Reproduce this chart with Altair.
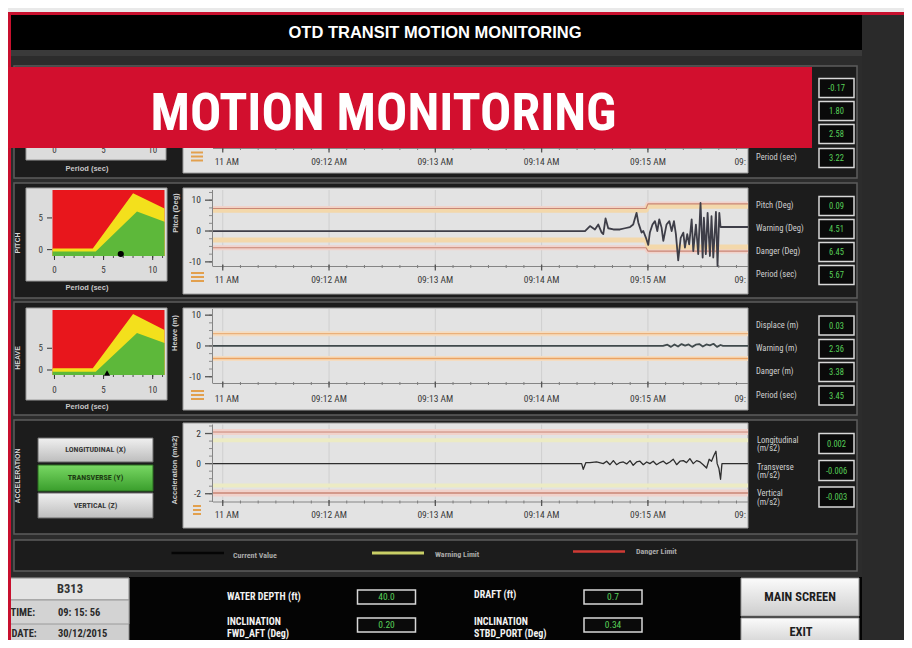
import altair as alt
import pandas as pd

# ------------------------------------------------------------------ content
SCREEN_TITLE = "OTD TRANSIT MOTION MONITORING"
BANNER_TEXT = "MOTION MONITORING"
PANEL_NAMES = ["ROLL", "PITCH", "HEAVE", "ACCELERATION"]
AXIS_TITLES = ["Roll (Deg)", "Pitch (Deg)", "Heave (m)", "Acceleration (m/s2)"]
ENV_TITLE = "Period (sec)"
ENV_X_TICKS = [0, 5, 10]
ENV_Y_TICKS = [0, 5]

# time axis, seconds after 09:11:00
TIME_WINDOW = [-5.5, 296.5]
TIME_TICKS = [0, 60, 120, 180, 240, 300]
TIME_LABELS = ["11 AM", "09:12 AM", "09:13 AM", "09:14 AM", "09:15 AM", "09:"]

PITCH_Y_TICKS = [10, 0, -10]
HEAVE_Y_TICKS = [10, 0, -10]
ACC_Y_TICKS = [2, 0, -2]

# pitch trace
PITCH_T = [-5.5, 204.5, 207.3, 210.1, 212.0, 213.9, 214.8, 216.1, 217.6, 220.5,
           224.2, 227.0, 229.9, 231.7, 233.6, 234.6, 235.5, 236.4, 237.4, 238.9,
           240.2, 241.1, 242.6, 244.0, 245.3, 246.4, 247.7, 248.7, 250.5, 252.1,
           253.4, 254.7, 255.8, 257.1, 258.5, 260.0, 260.9, 262.2, 263.3, 264.7,
           265.6, 267.1, 268.4, 269.7, 270.9, 271.6, 272.7, 273.7, 275.0, 275.9,
           276.9, 278.4, 279.3, 280.3, 281.0, 296.5]
PITCH_V = [0, 0, 1.6, 0.5, 2.1, -0.5, -1.0, 4.1, 0.9, 0.5,
           0.5, 0.9, 1.3, 2.1, 5.9, 2.7, 1.1, -0.5, 0.0, -2.2,
           -4.5, -0.5, 2.1, 3.2, 0.0, 3.8, 1.1, -3.2, 2.1, 3.2,
           0.0, 3.2, -1.0, -9.5, -2.2, -0.5, -5.4, -1.0, -4.3, 3.8,
           -6.5, 2.1, -7.5, 9.1, -8.6, 4.3, -7.5, 5.9, -8.1, 4.8,
           -8.6, 6.2, -11.3, 5.9, 1.3, 1.3]
PITCH_LIMIT_T = [-5.5, 239.0, 240.0, 296.5]
PITCH_DANGER_HI = [7.3, 7.3, 8.8, 8.8]
PITCH_DANGER_LO = [-5.4, -5.4, -6.5, -6.5]
PITCH_WARN_HI = [6.7, 6.7, 8.0, 8.0]
PITCH_WARN_LO = [-2.9, -2.9, -5.2, -5.2]

# heave trace
HEAVE_T = [-5.5, 248.5, 251.0, 253.0, 255.0, 257.0, 259.0, 261.0, 263.0, 265.0,
           267.0, 269.0, 271.0, 273.0, 275.0, 277.0, 279.0, 281.0, 282.4, 296.5]
HEAVE_V = [0, 0, 0.4, -0.3, 0.5, -0.2, 0.6, 0.1, 0.5, -0.3,
           0.4, 0.6, -0.2, 0.5, 0.2, 0.7, -0.3, 0.3, 0, 0]
HEAVE_LIMITS = [4.0, -4.1]

# transverse acceleration trace
ACC_T = [-5.5, 202.6, 203.5, 205.0, 207.3, 211.0, 214.8, 216.7, 218.6, 220.5,
         222.3, 224.2, 226.1, 228.0, 229.9, 231.7, 233.6, 235.5, 237.4, 239.3,
         241.1, 243.0, 244.9, 246.8, 248.7, 250.5, 252.4, 254.3, 256.2, 258.1,
         260.0, 261.8, 263.7, 265.6, 267.5, 269.4, 271.2, 273.1, 274.6, 275.9,
         277.3, 278.4, 279.1, 280.1, 281.0, 281.8, 296.5]
ACC_V = [0, 0, -0.38, 0.07, 0.07, 0.11, 0, 0.16, -0.07, 0.2,
         -0.07, 0.07, 0.11, -0.02, 0.2, -0.11, 0.11, 0.16, -0.07, 0.11,
         0, 0.16, -0.07, 0.07, 0.16, -0.02, 0.11, 0.29, -0.07, 0.16,
         0.2, 0.07, 0.33, 0, 0.2, 0.11, -0.07, -0.29, 0.29, 0.16,
         0.56, 0.82, 0, -0.33, -1.04, 0, 0]
ACC_DANGER = [2.1, -1.95]
ACC_WARN = [1.55, -1.45]

# motion envelopes (period vs amplitude)
ENV_X_WARN = [-0.2, 3.9, 8.0, 11.2]
ENV_X_SAFE = [-0.2, 4.2, 8.4, 11.2]
PITCH_ENV_WARN = [0.2, 0.2, 8.9, 6.5]
PITCH_ENV_SAFE = [-0.3, -0.3, 6.0, 4.4]
HEAVE_ENV_WARN = [0.4, 0.4, 12.9, 9.2]
HEAVE_ENV_SAFE = [-0.4, -0.4, 8.5, 6.2]
PITCH_STATE = [6.75, -0.68]
HEAVE_STATE = [5.35, -0.7]

# readouts
ROLL_READ_LABELS = ["Roll (Deg)", "Warning (Deg)", "Danger (Deg)", "Period (sec)"]
ROLL_READ_VALUES = [-0.17, 1.80, 2.58, 3.22]
PITCH_READ_LABELS = ["Pitch (Deg)", "Warning (Deg)", "Danger (Deg)", "Period (sec)"]
PITCH_READ_VALUES = [0.09, 4.51, 6.45, 5.67]
HEAVE_READ_LABELS = ["Displace (m)", "Warning (m)", "Danger (m)", "Period (sec)"]
HEAVE_READ_VALUES = [0.03, 2.36, 3.38, 3.45]
ACC_READ_LABELS = ["Longitudinal", "Transverse", "Vertical"]
ACC_READ_UNIT = "(m/s2)"
ACC_READ_VALUES = [0.002, -0.006, -0.003]
ACC_BUTTONS = ["LONGITUDINAL (X)", "TRANSVERSE (Y)", "VERTICAL (Z)"]
LEGEND_LABELS = ["Current Value", "Warning Limit", "Danger Limit"]
VESSEL_ID = "B313"
CLOCK = ["TIME:", "09: 15: 56"]
DATE = ["DATE:", "30/12/2015"]
SHIP_LABELS = [["WATER DEPTH (ft)"], ["DRAFT (ft)"],
               ["INCLINATION", "FWD_AFT (Deg)"], ["INCLINATION", "STBD_PORT (Deg)"]]
SHIP_VALUES = [40.0, 0.7, 0.20, 0.34]
SHIP_DECIMALS = [1, 1, 2, 2]
NAV_BUTTONS = ["MAIN SCREEN", "EXIT"]

# ------------------------------------------------------------------ style
W, H, OFF = 896, 632, 8
F_N = "Roboto Condensed, Liberation Sans Narrow, Liberation Sans, sans-serif"
F_S = "Liberation Sans, Arial, sans-serif"
F_B = "Roboto Condensed, Open Sans Condensed, Liberation Sans Narrow, Liberation Sans, sans-serif"
BANNER_RED = "#d20f2e"
EDGE_RED = "#c8102e"
ZONE_RED, ZONE_YEL, ZONE_GRN = "#e8161c", "#f3e01c", "#5db83a"
GREEN_TXT = "#58cf58"
TRACE = "#3e3e48"


def c(v):
    return v - OFF


def sc(dom, rng):
    return alt.Scale(domain=list(dom), range=[c(r) for r in rng], nice=False, zero=False)


def rect_layer(rows):
    df = pd.DataFrame(rows, columns=["x", "y", "x2", "y2", "f", "s", "w"])
    for k in ["x", "y", "x2", "y2"]:
        df[k] = df[k] - OFF
    return alt.Chart(df).mark_rect().encode(
        x=alt.X("x:Q", scale=None), x2="x2",
        y=alt.Y("y:Q", scale=None), y2="y2",
        fill=alt.Fill("f:N", scale=None),
        stroke=alt.Stroke("s:N", scale=None),
        strokeWidth=alt.StrokeWidth("w:Q", scale=None))


def grad_rect(x1, y1, x2, y2, top, bottom, stroke="#6a6a6a"):
    df = pd.DataFrame({"x": [c(x1)], "x2": [c(x2)], "y": [c(y1)], "y2": [c(y2)]})
    g = alt.Gradient(gradient="linear",
                     stops=[alt.GradientStop(color=top, offset=0),
                            alt.GradientStop(color=bottom, offset=1)],
                     x1=0, x2=0, y1=0, y2=1)
    return alt.Chart(df).mark_rect(fill=g, stroke=stroke, strokeWidth=1).encode(
        x=alt.X("x:Q", scale=None), x2="x2", y=alt.Y("y:Q", scale=None), y2="y2")


def seg_layer(rows, color, width):
    df = pd.DataFrame(rows, columns=["x", "y", "x2", "y2"]) - OFF
    return alt.Chart(df).mark_rule(color=color, strokeWidth=width).encode(
        x=alt.X("x:Q", scale=None), y=alt.Y("y:Q", scale=None), x2="x2", y2="y2")


def text_layer(rows, **kw):
    df = pd.DataFrame(rows, columns=["x", "y", "t"])
    df["x"] = df["x"] - OFF
    df["y"] = df["y"] - OFF
    kw.setdefault("baseline", "middle")
    return alt.Chart(df).mark_text(**kw).encode(
        x=alt.X("x:Q", scale=None), y=alt.Y("y:Q", scale=None), text="t:N")


TX = sc(TIME_WINDOW, [213, 748])


def tx():
    return alt.X("s:Q", scale=TX, axis=None)


def time_frame(ys, top, axis_y, label_y, y_ticks=None, y_minor=None):
    out = []
    if ys is not None:
        out.append(alt.Chart(pd.DataFrame({"s": TIME_TICKS[:5]})).mark_rule(
            color="#cfcfcf", strokeWidth=1).encode(
            x=tx(), y=alt.value(c(top)), y2=alt.value(c(axis_y))))
    minor = list(range(0, 300, 10))
    out.append(alt.Chart(pd.DataFrame({"s": minor})).mark_rule(
        color="#7d7d7d", strokeWidth=1).encode(
        x=tx(), y=alt.value(c(axis_y - 1.5)), y2=alt.value(c(axis_y + 1.5))))
    out.append(alt.Chart(pd.DataFrame({"s": TIME_TICKS[:5]})).mark_rule(
        color="#555555", strokeWidth=1.3).encode(
        x=tx(), y=alt.value(c(axis_y - 2)), y2=alt.value(c(axis_y + 4))))
    lab = pd.DataFrame({"s": TIME_TICKS, "t": TIME_LABELS})
    base = dict(fontSize=9.5, color="#3a3a3a", font=F_N, baseline="middle")
    out.append(alt.Chart(lab.iloc[[0]]).mark_text(dx=4, **base).encode(
        x=tx(), y=alt.value(c(label_y)), text="t:N"))
    out.append(alt.Chart(lab.iloc[1:5]).mark_text(**base).encode(
        x=tx(), y=alt.value(c(label_y)), text="t:N"))
    out.append(alt.Chart(lab.iloc[[5]]).mark_text(dx=-14, **base).encode(
        x=tx(), y=alt.value(c(label_y)), text="t:N"))
    if y_ticks is not None:
        yt = pd.DataFrame({"v": y_ticks, "t": [str(v) for v in y_ticks]})
        yenc = alt.Y("v:Q", scale=ys, axis=None)
        out.append(alt.Chart(yt).mark_text(align="right", baseline="middle", fontSize=9.5,
                                           color="#333333", font=F_N).encode(
            x=alt.value(c(201)), y=yenc, text="t:N"))
        out.append(alt.Chart(pd.DataFrame({"v": y_minor})).mark_rule(
            color="#8a8a8a", strokeWidth=1).encode(
            x=alt.value(c(209)), x2=alt.value(c(212)), y=yenc))
        out.append(alt.Chart(yt).mark_rule(color="#555555", strokeWidth=1.3).encode(
            x=alt.value(c(205)), x2=alt.value(c(212)), y=yenc))
    return out


def series(t, v, ys, color, width, opacity=1.0):
    return alt.Chart(pd.DataFrame({"s": t, "v": v})).mark_line(
        color=color, strokeWidth=width, opacity=opacity, strokeJoin="round").encode(
        x=tx(), y=alt.Y("v:Q", scale=ys, axis=None))


def flat(v, ys, color, width, opacity=1.0):
    return series(TIME_WINDOW, [v, v], ys, color, width, opacity)


MX = sc([-0.2, 11.2], [52.5, 164.5])


def envelope(warn_y, safe_y, ydom, yrng, label_y, state, shape):
    my = sc(ydom, yrng)
    X = lambda f: alt.X(f, scale=MX, axis=None)
    Y = lambda f: alt.Y(f, scale=my, axis=None)
    red = alt.Chart(pd.DataFrame({"x": [ENV_X_WARN[0]], "x2": [ENV_X_WARN[-1]],
                                  "y": [ydom[0]], "y2": [ydom[1]]})).mark_rect(
        color=ZONE_RED).encode(x=X("x:Q"), x2="x2", y=Y("y:Q"), y2="y2")
    yel = alt.Chart(pd.DataFrame({"x": ENV_X_WARN, "y": warn_y})).mark_area(
        color=ZONE_YEL, opacity=1).encode(x=X("x:Q"), y=Y("y:Q"), y2=alt.datum(ydom[0]))
    grn = alt.Chart(pd.DataFrame({"x": ENV_X_SAFE, "y": safe_y})).mark_area(
        color=ZONE_GRN, opacity=1).encode(x=X("x:Q"), y=Y("y:Q"), y2=alt.datum(ydom[0]))
    bottom = yrng[0]
    xt_minor = alt.Chart(pd.DataFrame({"v": list(range(0, 12))})).mark_rule(
        color="#4a4a4a", strokeWidth=1).encode(
        x=X("v:Q"), y=alt.value(c(bottom)), y2=alt.value(c(bottom + 2)))
    xt = alt.Chart(pd.DataFrame({"v": ENV_X_TICKS})).mark_rule(
        color="#333333", strokeWidth=1).encode(
        x=X("v:Q"), y=alt.value(c(bottom)), y2=alt.value(c(bottom + 4)))
    xl = alt.Chart(pd.DataFrame({"v": ENV_X_TICKS})).mark_text(
        fontSize=9, color="#3a3a3a", font=F_N).encode(
        x=X("v:Q"), y=alt.value(c(label_y)), text="v:N")
    yt = alt.Chart(pd.DataFrame({"v": ENV_Y_TICKS})).mark_rule(
        color="#333333", strokeWidth=1).encode(
        x=alt.value(c(47)), x2=alt.value(c(52)), y=Y("v:Q"))
    yl = alt.Chart(pd.DataFrame({"v": ENV_Y_TICKS})).mark_text(
        align="right", baseline="middle", fontSize=9, color="#3a3a3a", font=F_N).encode(
        x=alt.value(c(43)), y=Y("v:Q"), text="v:N")
    mk = alt.Chart(pd.DataFrame({"x": [state[0]], "y": [state[1]]})).mark_point(
        shape=shape, filled=True, color="#000000", size=38, opacity=1).encode(
        x=X("x:Q"), y=Y("y:Q"))
    return alt.layer(red, yel, grn, xt_minor, xt, xl, yt, yl, mk)


# ------------------------------------------------------------------ scales for traces
YP = sc([-11.5, 13.3], [266.5, 190])
YH = sc([-12.2, 12.0], [383.5, 309])
YA = sc([-2.55, 2.6], [502, 424.5])

PITCH_Y_MINOR = [-10, -7.5, -5, -2.5, 0, 2.5, 5, 7.5, 10, 12.5]
HEAVE_Y_MINOR = [-10, -7.5, -5, -2.5, 0, 2.5, 5, 7.5, 10]
ACC_Y_MINOR = [-2.5, -2, -1.5, -1, -0.5, 0, 0.5, 1, 1.5, 2, 2.5]

WARN_BAND = "#f3d8ab"
DANGER_BAND = "#f1d2cb"
DANGER_LINE = "#c98676"

roll_panel = alt.layer(*time_frame(None, 70, 148.5, 162))

pitch_panel = alt.layer(
    *time_frame(YP, 190, 266.5, 279.5, PITCH_Y_TICKS, PITCH_Y_MINOR),
    series(PITCH_LIMIT_T, PITCH_DANGER_HI, YP, DANGER_BAND, 5),
    series(PITCH_LIMIT_T, PITCH_DANGER_LO, YP, DANGER_BAND, 5),
    series(PITCH_LIMIT_T, PITCH_WARN_HI, YP, WARN_BAND, 5),
    series(PITCH_LIMIT_T, PITCH_WARN_LO, YP, WARN_BAND, 5),
    series(PITCH_LIMIT_T, PITCH_DANGER_HI, YP, DANGER_LINE, 1.1),
    series(PITCH_LIMIT_T, PITCH_DANGER_LO, YP, DANGER_LINE, 1.1),
    series(PITCH_T, PITCH_V, YP, TRACE, 1.8),
)

heave_panel = alt.layer(
    *time_frame(YH, 309, 383.5, 398.5, HEAVE_Y_TICKS, HEAVE_Y_MINOR),
    flat(HEAVE_LIMITS[0], YH, "#f5dcc0", 5),
    flat(HEAVE_LIMITS[1], YH, "#f5dcc0", 5),
    flat(HEAVE_LIMITS[0], YH, "#eab07a", 1.1),
    flat(HEAVE_LIMITS[1], YH, "#eba262", 1.6),
    series(HEAVE_T, HEAVE_V, YH, "#404a4c", 1.8),
)

acc_panel = alt.layer(
    *time_frame(YA, 424.5, 502, 515, ACC_Y_TICKS, ACC_Y_MINOR),
    flat(ACC_DANGER[0], YA, DANGER_BAND, 6),
    flat(ACC_DANGER[1], YA, DANGER_BAND, 7),
    flat(ACC_WARN[0], YA, "#ecebc4", 4),
    flat(ACC_WARN[1], YA, "#ecebc4", 4),
    flat(ACC_DANGER[0], YA, DANGER_LINE, 1),
    flat(ACC_DANGER[1], YA, DANGER_LINE, 1.6),
    series(ACC_T, ACC_V, YA, "#2e2e2e", 1.3),
)

pitch_env = envelope(PITCH_ENV_WARN, PITCH_ENV_SAFE, [-1.0, 9.4], [256, 190], 269.5,
                     PITCH_STATE, "circle")
heave_env = envelope(HEAVE_ENV_WARN, HEAVE_ENV_SAFE, [-1.15, 13.8], [375, 310], 389.5,
                     HEAVE_STATE, "triangle-up")
roll_env_labels = alt.Chart(pd.DataFrame({"v": ENV_X_TICKS})).mark_text(
    fontSize=9, color="#3a3a3a", font=F_N).encode(
    x=alt.X("v:Q", scale=MX, axis=None), y=alt.value(c(150)), text="v:N")

# ------------------------------------------------------------------ frame rectangles
T = "transparent"
PANEL_F, PANEL_S = "#1c1c1c", "#5c5c5c"
BOX_F, BOX_S = "#0a0a0a", "#d8d8d8"
panel_rows = [(14, y1, 857, y2, PANEL_F, PANEL_S, 1.5)
              for y1, y2 in [(66, 178), (183, 298), (302, 415), (420, 534), (540, 571)]]
read_rows = []
for centers in [[88, 111, 134, 158], [206, 229, 252, 275], [325.5, 349, 372, 395.5]]:
    read_rows += [(819, yc - 9.5, 854, yc + 9.5, BOX_F, BOX_S, 1.5) for yc in centers]
acc_centers = [443.5, 470.5, 497]
read_rows += [(819, yc - 10, 854, yc + 10, BOX_F, BOX_S, 1.5) for yc in acc_centers]
ship_boxes = [(357.5, 590, 415.5, 604), (584, 590, 642, 604),
              (357.5, 618, 415.5, 632), (584, 618, 642, 632)]

base_rects = rect_layer(
    [(862, 12, 912, 648, "#2a2a2a", T, 0),
     (11, 50, 862, 577, "#2c2c2c", T, 0),
     (11, 14, 862, 50, "#000000", T, 0),
     (11, 50, 862, 56, "#3a3a3a", T, 0)]
    + panel_rows
    + [(11, 577, 862, 648, "#040404", T, 0),
       (26, 70, 166, 160, "#dcdcdc", "#9a9a9a", 1),
       (26, 188, 167, 281, "#dcdcdc", "#9a9a9a", 1),
       (26, 308, 167, 400, "#dcdcdc", "#9a9a9a", 1),
       (183, 70, 748, 173, "#e3e3e3", "#9c9c9c", 1),
       (183, 188, 748, 294, "#e3e3e3", "#9c9c9c", 1),
       (183, 308, 748, 410, "#e3e3e3", "#9c9c9c", 1),
       (183, 423, 748, 528, "#e3e3e3", "#9c9c9c", 1)]
    + read_rows
    + [(a, b, cc, d, BOX_F, BOX_S, 1.5) for a, b, cc, d in ship_boxes]
    + [(10.5, 578, 129, 648, "#cfcfcf", "#8a8a8a", 1),
       (10.5, 578, 129, 600, "#e4e4e4", "#8a8a8a", 1),
       (10.5, 600, 129, 624, "#d3d3d3", "#9a9a9a", 1),
       (8, 12, 11, 648, EDGE_RED, T, 0),
       (8, 12, 912, 15, EDGE_RED, T, 0)]
)

buttons = [
    grad_rect(38, 438, 153, 462, "#f0f0f0", "#bdbdbd"),
    grad_rect(38, 465, 153, 491, "#79d864", "#3a9e2c", "#2a6a20"),
    grad_rect(38, 493, 153, 518, "#f0f0f0", "#bdbdbd"),
    grad_rect(741, 578, 859, 616, "#fbfbfb", "#cdcdcd", "#9a9a9a"),
    grad_rect(741, 618, 859, 648, "#fbfbfb", "#cdcdcd", "#9a9a9a"),
]

axis_segs = seg_layer(
    [(213, 148.5, 748, 148.5),
     (212.5, 190, 212.5, 266.5), (213, 266.5, 748, 266.5),
     (212.5, 309, 212.5, 383.5), (213, 383.5, 748, 383.5),
     (212.5, 424.5, 212.5, 502), (213, 502, 748, 502)],
    "#858585", 1)
burger = seg_layer(
    [(191, yy, 203, yy) for yy in (152.5, 156.5, 160.5)]
    + [(191, yy, 204, yy) for yy in (273, 277, 281)]
    + [(191, yy, 204, yy) for yy in (391, 395, 399)]
    + [(193, yy, 201, yy) for yy in (506, 510, 514)],
    "#e2a04e", 2)
legend_segs = [
    seg_layer([(171.5, 553, 224, 553)], "#050505", 2.5),
    seg_layer([(372, 553, 424, 553)], "#c9cf66", 3),
    seg_layer([(573, 551.5, 625, 551.5)], "#cf3a34", 2.5),
]

# ------------------------------------------------------------------ texts
def fmt(v, d):
    return f"{v:.{d}f}"


side_labels = text_layer(
    [(18, 122, PANEL_NAMES[0]), (18, 243, PANEL_NAMES[1]),
     (18, 358, PANEL_NAMES[2]), (18, 476, PANEL_NAMES[3])],
    angle=270, fontSize=7, fontWeight="bold", color="#d6d6d6", font=F_S)
axis_titles = text_layer(
    [(176, 120, AXIS_TITLES[0]), (176, 213, AXIS_TITLES[1]),
     (175, 333, AXIS_TITLES[2]), (175, 470, AXIS_TITLES[3])],
    angle=270, fontSize=7.5, fontWeight="bold", color="#cfcfcf", font=F_S)
env_titles = text_layer([(87, 168.5, ENV_TITLE), (87, 288, ENV_TITLE), (87, 407, ENV_TITLE)],
                        fontSize=7.5, fontWeight="bold", color="#c8c8c8", font=F_S)

read_label_rows = []
read_value_rows = []
for labels, values, centers in [
        (ROLL_READ_LABELS, ROLL_READ_VALUES, [88, 111, 134, 158]),
        (PITCH_READ_LABELS, PITCH_READ_VALUES, [206, 229, 252, 275]),
        (HEAVE_READ_LABELS, HEAVE_READ_VALUES, [325.5, 349, 372, 395.5])]:
    read_label_rows += [(756, yc - 1, t) for t, yc in zip(labels, centers)]
    read_value_rows += [(836.5, yc, fmt(v, 2)) for v, yc in zip(values, centers)]
for t, yc in zip(ACC_READ_LABELS, acc_centers):
    read_label_rows += [(757, yc - 4, t), (757, yc + 4.5, ACC_READ_UNIT)]
read_value_rows += [(836.5, yc, fmt(v, 3)) for v, yc in zip(ACC_READ_VALUES, acc_centers)]
read_labels = text_layer(read_label_rows, align="left", fontSize=8.5, color="#d0d0d0", font=F_N)
read_values = text_layer(read_value_rows, fontSize=8.5, color=GREEN_TXT, font=F_N)

btn_text = [
    text_layer([(95.5, 450, ACC_BUTTONS[0]), (95.5, 505.5, ACC_BUTTONS[2])],
               fontSize=8, fontWeight="bold", color="#3a3a3a", font=F_N),
    text_layer([(95.5, 478, ACC_BUTTONS[1])],
               fontSize=8, fontWeight="bold", color="#1d3d12", font=F_N),
    text_layer([(800, 597, NAV_BUTTONS[0]), (801, 632, NAV_BUTTONS[1])],
               fontSize=12.5, fontWeight="bold", color="#1e1e1e", font=F_N),
]
legend_text = text_layer(
    [(233, 555.5, LEGEND_LABELS[0]), (435, 555, LEGEND_LABELS[1]), (636, 551.5, LEGEND_LABELS[2])],
    align="left", fontSize=8, fontWeight="bold", color="#a8a8a8", font=F_N)

info_text = [
    text_layer([(70, 589, VESSEL_ID)], fontSize=12.5, fontWeight="bold", color="#333333", font=F_N),
    text_layer([(10.5, 612.5, CLOCK[0]), (58, 612.5, CLOCK[1]),
                (11.5, 633.5, DATE[0]), (58, 633.5, DATE[1])],
               align="left", fontSize=10.5, fontWeight="bold", color="#2a2a2a", font=F_N),
]
ship_label_rows = []
for lines, (xl, yl) in zip(SHIP_LABELS, [(227, 597), (474, 595), (227, 621.5), (474, 621.5)]):
    for i, line in enumerate(lines):
        ship_label_rows.append((xl, yl + 12.5 * i, line))
ship_text = [
    text_layer(ship_label_rows, align="left", fontSize=10, fontWeight="bold",
               color="#f2f2f2", font=F_N),
    text_layer([((a + cc) / 2, (b + d) / 2, fmt(v, dd))
                for (a, b, cc, d), v, dd in zip(ship_boxes, SHIP_VALUES, SHIP_DECIMALS)],
               fontSize=9.5, color=GREEN_TXT, font=F_N),
]
title_text = text_layer([(435, 32.5, SCREEN_TITLE)], fontSize=16.5, fontWeight="bold",
                        color="#ffffff", font=F_S)

banner = rect_layer([(0, 67, 812, 148, BANNER_RED, T, 0)])
banner_text = text_layer([(383.5, 130, BANNER_TEXT)], baseline="alphabetic", fontSize=52,
                         fontWeight="bold", color="#ffffff", font=F_B)

chart = alt.layer(
    base_rects, *buttons, axis_segs, burger, *legend_segs,
    roll_panel, pitch_panel, heave_panel, acc_panel,
    pitch_env, heave_env, roll_env_labels,
    side_labels, axis_titles, env_titles, read_labels, read_values,
    *btn_text, legend_text, *info_text, *ship_text, title_text,
    banner, banner_text,
).resolve_scale(x="independent", y="independent").properties(
    width=W, height=H, padding=0, background="#e9e9e9",
    autosize=alt.AutoSizeParams(type="none"),
).configure_view(strokeWidth=0)

chart.save("out.html", embed_options={"renderer": "svg", "actions": False})
